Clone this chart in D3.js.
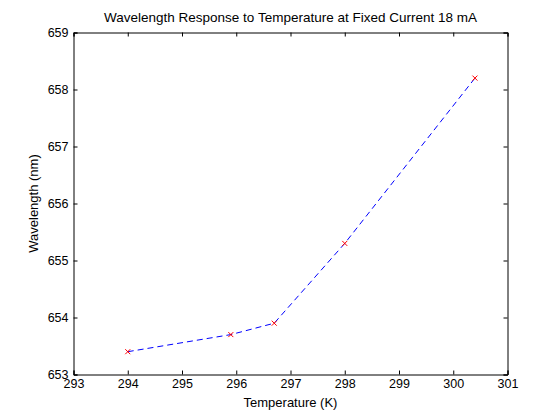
<!DOCTYPE html>
<html><head><meta charset="utf-8">
<script src="https://cdn.jsdelivr.net/npm/d3@7"></script>
<style>body{margin:0;background:#fff}svg{display:block}text{font-family:"Liberation Sans",Arial,sans-serif;fill:#000}</style>
</head><body>
<svg id="c" width="560" height="420"></svg>
<script>
const temperature = [294, 295.9, 296.7, 298, 300.4];
const wavelength = [653.4, 653.7, 653.9, 655.3, 658.2];
const xTicks = [293, 294, 295, 296, 297, 298, 299, 300, 301];
const yTicks = [653, 654, 655, 656, 657, 658, 659];
const titleText = "Wavelength Response to Temperature at Fixed Current 18 mA";
const xLabel = "Temperature (K)";
const yLabel = "Wavelength (nm)";

const svg = d3.select("#c");
const L = 73.5, R = 507.5, T = 32.5, B = 374.5;
const x = d3.scaleLinear().domain([293, 301]).range([L, R]);
const y = d3.scaleLinear().domain([653, 659]).range([B, T]);
svg.append("rect").attr("width",560).attr("height",420).attr("fill","#fff");

const tl = 4;
const fs = 12.5;
const gB = svg.append("g").attr("transform",`translate(0,${B})`)
  .call(d3.axisBottom(x).tickValues(xTicks).tickSize(-tl).tickPadding(5).tickFormat(d3.format("d")));
const gT = svg.append("g").attr("transform",`translate(0,${T})`)
  .call(d3.axisTop(x).tickValues(xTicks).tickSize(-tl).tickFormat(""));
const gL = svg.append("g").attr("transform",`translate(${L},0)`)
  .call(d3.axisLeft(y).tickValues(yTicks).tickSize(-tl).tickPadding(5).tickFormat(d3.format("d")));
const gR = svg.append("g").attr("transform",`translate(${R},0)`)
  .call(d3.axisRight(y).tickValues(yTicks).tickSize(-tl).tickFormat(""));
[gB,gT,gL,gR].forEach(g=>{
  g.select(".domain").attr("stroke","#000").attr("stroke-width",1);
  g.selectAll(".tick line").attr("stroke","#000");
  g.selectAll("text").attr("font-size",fs).attr("font-family","Liberation Sans, Arial, sans-serif").attr("fill","#000");
});

const data = temperature.map((t,i)=>({t, w: wavelength[i]}));
svg.append("path").datum(data)
  .attr("fill","none").attr("stroke","#0000ff").attr("stroke-width",1)
  .attr("stroke-dasharray","6,4")
  .attr("d", d3.line().x(d=>x(d.t)).y(d=>y(d.w)));

const ms = 2.5;
const mk = svg.append("g");
data.forEach(d=>{
  const cx = x(d.t), cy = y(d.w);
  mk.append("path")
    .attr("d",`M${cx-ms},${cy-ms}L${cx+ms},${cy+ms}M${cx-ms},${cy+ms}L${cx+ms},${cy-ms}`)
    .attr("stroke","#ff0000").attr("stroke-width",1).attr("fill","none");
});

svg.append("text").attr("x",(L+R)/2).attr("y",22).attr("text-anchor","middle")
  .attr("font-size",13.5).text(titleText);
svg.append("text").attr("x",(L+R)/2).attr("y",407).attr("text-anchor","middle")
  .attr("font-size",13).text(xLabel);
svg.append("text").attr("transform",`translate(38,${(T+B)/2}) rotate(-90)`).attr("text-anchor","middle")
  .attr("font-size",13).text(yLabel);
</script>
</body></html>
